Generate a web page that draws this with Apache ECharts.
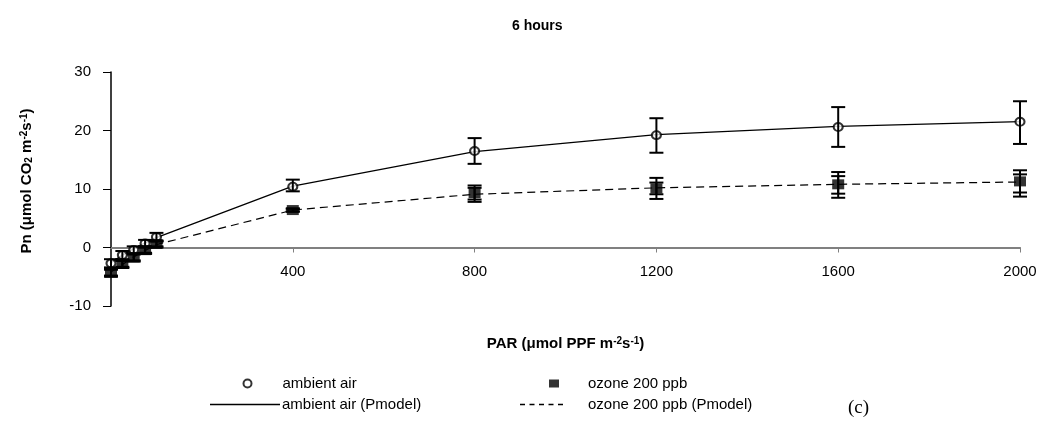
<!DOCTYPE html>
<html>
<head>
<meta charset="utf-8">
<script src="https://cdn.jsdelivr.net/npm/echarts@6/dist/echarts.min.js"></script>
<style>
  html, body { margin: 0; padding: 0; background: #fff; }
  #chart { width: 1054px; height: 425px; }
</style>
</head>
<body>
<div id="chart"></div>
<script>
// Light response of net photosynthesis after 6 hours of exposure
const par = [0, 25, 50, 75, 100, 400, 800, 1200, 1600, 2000];
const xTicks = [400, 800, 1200, 1600, 2000];
const yTicks = [-10, 0, 10, 20, 30];

// ambient air: measured means with error limits
const ambient     = [-2.7, -1.3, -0.4, 0.7, 1.8, 10.4, 16.5, 19.2, 20.6, 21.5];
const ambientLow  = [-3.4, -2.0, -1.0, 0.1, 1.1, 9.6, 14.3, 16.2, 17.2, 17.7];
const ambientHigh = [-2.0, -0.6, 0.2, 1.3, 2.5, 11.6, 18.7, 22.1, 24.0, 25.0];

// ozone 200 ppb: measured means with two sets of error limits
const ozone       = [-4.3, -2.8, -1.7, -0.45, 0.6, 6.4, 9.3, 10.1, 10.8, 11.3];
const ozoneLow    = [-5.0, -3.5, -2.4, -1.1, 0.0, 6.1, 7.8, 8.3, 8.5, 8.7];
const ozoneHigh   = [-3.6, -2.1, -1.0, 0.2, 1.2, 6.7, 10.6, 11.9, 12.9, 13.2];
const ozoneLow2   = [-4.8, -3.3, -2.2, -0.9, 0.2, 6.2, 8.2, 9.1, 9.2, 9.4];
const ozoneHigh2  = [-3.8, -2.3, -1.2, 0.0, 1.0, 6.6, 10.2, 11.1, 12.2, 12.5];

// model fits (Pmodel)
const ambientModel = [-2.6, -1.3, -0.2, 0.8, 1.7, 10.5, 16.4, 19.3, 20.7, 21.5];
const ozoneModel   = [-4.2, -2.9, -1.6, -0.5, 0.5, 6.4, 9.1, 10.2, 10.8, 11.2];

const FONT = 'Liberation Sans';

function pairs(xs, ys) { return xs.map((x, i) => [x, ys[i]]); }
function triples(xs, lo, hi) { return xs.map((x, i) => [x, lo[i], hi[i]]); }

function errorBar(capHalf) {
  return function (params, api) {
    const x = api.value(0);
    const lo = api.coord([x, api.value(1)]);
    const hi = api.coord([x, api.value(2)]);
    const style = { stroke: '#000', lineWidth: 2 };
    return {
      type: 'group',
      children: [
        { type: 'line', shape: { x1: lo[0], y1: lo[1], x2: hi[0], y2: hi[1] }, style },
        { type: 'line', shape: { x1: hi[0] - capHalf, y1: hi[1], x2: hi[0] + capHalf, y2: hi[1] }, style },
        { type: 'line', shape: { x1: lo[0] - capHalf, y1: lo[1], x2: lo[0] + capHalf, y2: lo[1] }, style }
      ]
    };
  };
}

// legend keys for the model curves: a plain stroke and a five-dash stroke
const SOLID_KEY = 'path://M0 0H70V1.3H0Z';
const DASH_KEY = 'path://M0 0H5V1.3H0Z M9.5 0H14.5V1.3H9.5Z M19 0H24V1.3H19Z M28.5 0H33.5V1.3H28.5Z M38 0H43V1.3H38Z';

const chart = echarts.init(document.getElementById('chart'), null, { renderer: 'canvas' });

const legendText = { fontFamily: FONT, fontSize: 15, color: '#000' };

chart.setOption({
  backgroundColor: '#fff',
  animation: false,
  title: {
    text: '6 hours',
    left: 507,
    top: 14,
    textStyle: { fontFamily: FONT, fontSize: 14, fontWeight: 'bold', color: '#000' }
  },
  legend: [
    { data: ['ambient air'], left: 242.5, top: 376, padding: 0, itemWidth: 9, itemHeight: 8,
      textStyle: Object.assign({ padding: [0, 0, 0, 25.5] }, legendText) },
    { data: ['ozone 200 ppb'], left: 549, top: 376, padding: 0, itemWidth: 10, itemHeight: 8,
      textStyle: Object.assign({ padding: [0, 0, 0, 24] }, legendText) },
    { data: [{ name: 'ambient air (Pmodel)', icon: SOLID_KEY }], left: 210, top: 397, padding: 0,
      itemWidth: 70, itemHeight: 1.3,
      textStyle: Object.assign({ padding: [0, 0, 0, -3] }, legendText) },
    { data: [{ name: 'ozone 200 ppb (Pmodel)', icon: DASH_KEY }], left: 520, top: 397, padding: 0,
      itemWidth: 43, itemHeight: 1.3,
      textStyle: Object.assign({ padding: [0, 0, 0, 20] }, legendText) }
  ],
  grid: { left: 111, right: 34, top: 72, bottom: 119, containLabel: false },
  xAxis: {
    type: 'value',
    min: 0, max: 2000, interval: 400,
    name: 'PAR (μmol PPF m{sup|-2}s{sup|-1})',
    nameLocation: 'middle',
    nameGap: 30,
    nameTextStyle: {
      fontFamily: FONT, fontSize: 15, fontWeight: 'bold', color: '#000',
      rich: { sup: { fontFamily: FONT, fontSize: 10, fontWeight: 'bold', verticalAlign: 'top', color: '#000' } }
    },
    axisLine: { onZero: true, lineStyle: { color: '#808080', width: 2 } },
    axisTick: { show: true, length: 5, lineStyle: { color: '#808080', width: 1 } },
    axisLabel: {
      fontFamily: FONT, fontSize: 15, color: '#000', margin: -42,
      showMinLabel: false,
      formatter: v => (xTicks.indexOf(v) >= 0 ? String(v) : '')
    },
    splitLine: { show: false }
  },
  yAxis: {
    type: 'value',
    min: -10, max: 30, interval: 10,
    name: 'Pn (μmol CO{sub|2} m{sup|-2}s{sup|-1})',
    nameLocation: 'middle',
    nameRotate: 90,
    nameGap: 77,
    nameTextStyle: {
      fontFamily: FONT, fontSize: 15, fontWeight: 'bold', color: '#000',
      padding: [0, 0, 0, 16],
      rich: {
        sup: { fontFamily: FONT, fontSize: 10, fontWeight: 'bold', verticalAlign: 'top', color: '#000' },
        sub: { fontFamily: FONT, fontSize: 10, fontWeight: 'bold', verticalAlign: 'bottom', color: '#000' }
      }
    },
    axisLine: { show: true, onZero: false, lineStyle: { color: '#000', width: 1.5 } },
    axisTick: { show: true, length: 8, lineStyle: { color: '#000', width: 1 } },
    axisLabel: {
      fontFamily: FONT, fontSize: 15, color: '#000', margin: 20,
      formatter: v => (yTicks.indexOf(v) >= 0 ? String(v) : '')
    },
    splitLine: { show: false }
  },
  series: [
    {
      name: 'ambient air (Pmodel)',
      type: 'line',
      data: pairs(par, ambientModel),
      symbol: 'none',
      lineStyle: { color: '#000', width: 1.3, type: 'solid' },
      itemStyle: { color: '#000' },
      z: 1
    },
    {
      name: 'ozone 200 ppb (Pmodel)',
      type: 'line',
      data: pairs(par, ozoneModel),
      symbol: 'none',
      lineStyle: { color: '#000', width: 1.2, type: [8, 5] },
      itemStyle: { color: '#000' },
      z: 1
    },
    {
      name: 'ambient air',
      type: 'scatter',
      data: pairs(par, ambient),
      symbol: 'emptyCircle',
      symbolSize: [9, 8],
      itemStyle: { color: '#000', borderColor: '#000', borderWidth: 1.5 },
      z: 2
    },
    {
      type: 'custom',
      data: triples(par, ambientLow, ambientHigh),
      renderItem: errorBar(7),
      clip: false,
      z: 3
    },
    {
      type: 'custom',
      data: triples(par, ozoneLow, ozoneHigh),
      renderItem: errorBar(7),
      clip: false,
      z: 3
    },
    {
      type: 'custom',
      data: triples(par, ozoneLow2, ozoneHigh2),
      renderItem: errorBar(7),
      clip: false,
      z: 3
    },
    {
      name: 'ozone 200 ppb',
      type: 'scatter',
      data: pairs(par, ozone),
      symbol: 'rect',
      symbolSize: [12, 10],
      itemStyle: { color: '#000' },
      z: 4
    }
  ],
  graphic: [
    {
      type: 'text',
      left: 848,
      top: 399,
      style: { text: '(c)', fontFamily: 'Liberation Serif', fontSize: 19, fill: '#000' }
    }
  ]
});
</script>
</body>
</html>
